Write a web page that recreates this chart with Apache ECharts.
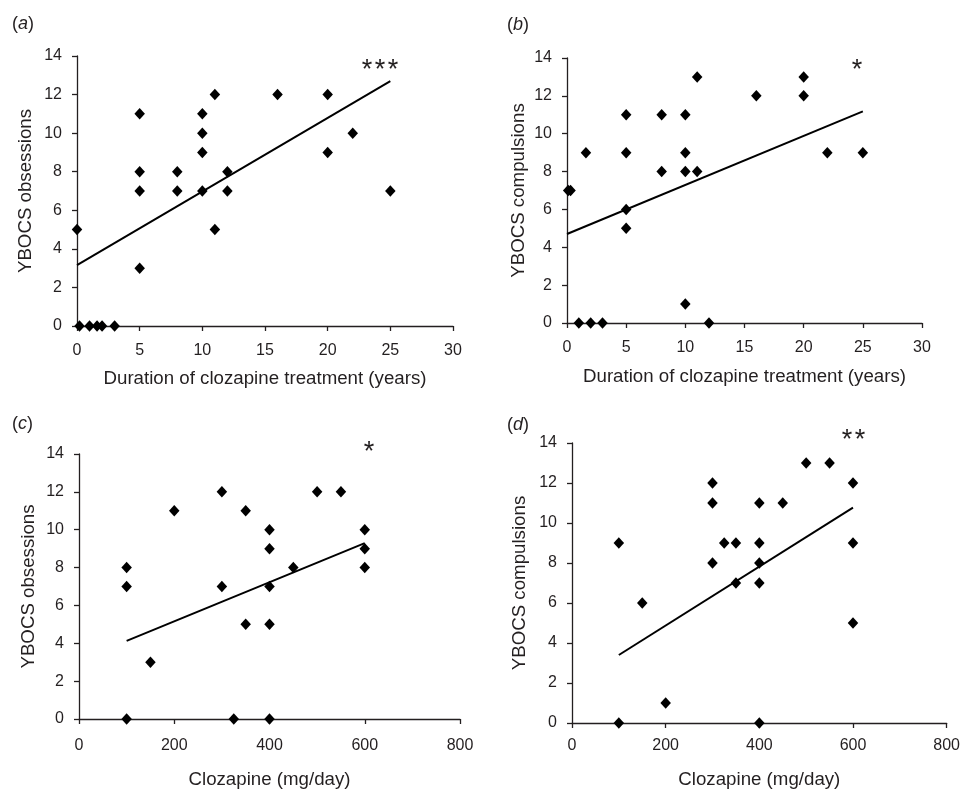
<!DOCTYPE html>
<html><head><meta charset="utf-8">
<script src="https://cdn.jsdelivr.net/npm/echarts@6/dist/echarts.min.js"></script>
<style>html,body{margin:0;padding:0;background:#fff}#c{width:963px;height:790px}</style>
</head><body><div id="c"></div>
<script>
// Panel (a): duration (years) vs YBOCS obsessions
const aX = [0, 0.2, 1, 1.6, 2, 3, 5, 5, 5, 5, 8, 8, 10, 10, 10, 10, 11, 11, 12, 12, 16, 20, 20, 22, 25];
const aY = [5, 0, 0, 0, 0, 0, 11, 8, 7, 3, 8, 7, 11, 10, 9, 7, 12, 5, 8, 7, 12, 12, 9, 10, 7];
const aTrendX = [0, 25];
const aTrendY = [3.16, 12.7];
// Panel (b): duration (years) vs YBOCS compulsions
const bX = [0.1, 0.3, 1, 1.6, 2, 3, 5, 5, 5, 5, 8, 8, 10, 10, 10, 10, 11, 11, 12, 16, 20, 20, 22, 25];
const bY = [7, 7, 0, 9, 0, 0, 11, 9, 6, 5, 11, 8, 11, 9, 8, 1, 13, 8, 0, 12, 13, 12, 9, 9];
const bTrendX = [0, 25];
const bTrendY = [4.7, 11.18];
// Panel (c): clozapine dose vs YBOCS obsessions
const cX = [100, 100, 100, 150, 200, 300, 300, 325, 350, 350, 400, 400, 400, 400, 400, 450, 500, 550, 600, 600, 600];
const cY = [8, 7, 0, 3, 11, 12, 7, 0, 11, 5, 10, 9, 7, 5, 0, 8, 12, 12, 10, 9, 8];
const cTrendX = [100, 600];
const cTrendY = [4.13, 9.29];
// Panel (d): clozapine dose vs YBOCS compulsions
const dX = [100, 100, 150, 200, 300, 300, 300, 325, 350, 350, 400, 400, 400, 400, 400, 450, 500, 550, 600, 600, 600];
const dY = [9, 0, 6, 1, 12, 11, 8, 9, 9, 7, 11, 9, 8, 7, 0, 11, 13, 13, 12, 9, 5];
const dTrendX = [100, 600];
const dTrendY = [3.4, 10.77];

const panelLabels = ['a', 'b', 'c', 'd'];
const starCounts = [3, 1, 1, 2];
const xTitles = ['Duration of clozapine treatment (years)', 'Duration of clozapine treatment (years)', 'Clozapine (mg/day)', 'Clozapine (mg/day)'];
const yTitles = ['YBOCS obsessions', 'YBOCS compulsions', 'YBOCS obsessions', 'YBOCS compulsions'];
const yTicks = [0, 2, 4, 6, 8, 10, 12, 14];
const xTicksYears = [0, 5, 10, 15, 20, 25, 30];
const xTicksDose = [0, 200, 400, 600, 800];

const FONT = '"Liberation Sans", Arial, sans-serif';
const INK = '#231f20';
const TICK_FS = 16;
const TITLE_FS = 18.7;

const grids = [
  {left: 77, top: 56, width: 376, height: 270},
  {left: 567, top: 58, width: 355, height: 265},
  {left: 79, top: 454, width: 381, height: 267},
  {left: 572, top: 443, width: 377, height: 282}
];
const xNameGap = [43, 44, 51, 47];
const yNameGap = [42, 39, 41, 43];
const xLabelMargin = [17, 17, 19, 15];
const xRanges = [xTicksYears, xTicksYears, xTicksDose, xTicksDose];
const pts = [[aX, aY], [bX, bY], [cX, cY], [dX, dY]];
const trends = [[aTrendX, aTrendY], [bTrendX, bTrendY], [cTrendX, cTrendY], [dTrendX, dTrendY]];

const zip = (xs, ys) => xs.map((x, i) => [x, ys[i]]);

const xAxis = [], yAxis = [], series = [];
grids.forEach((g, i) => {
  const xt = xRanges[i];
  xAxis.push({
    type: 'value', gridIndex: i, min: xt[0], max: xt[xt.length - 1], interval: xt[1] - xt[0],
    name: xTitles[i], nameLocation: 'middle', nameGap: xNameGap[i],
    nameTextStyle: {fontFamily: FONT, fontSize: TITLE_FS, color: INK},
    axisLine: {show: true, onZero: false, lineStyle: {color: INK, width: 1.3}},
    axisTick: {show: true, inside: false, length: 5, lineStyle: {color: INK, width: 1.3}},
    axisLabel: {fontFamily: FONT, fontSize: TICK_FS, color: INK, margin: xLabelMargin[i]},
    splitLine: {show: false}
  });
  yAxis.push({
    type: 'value', gridIndex: i, min: yTicks[0], max: yTicks[yTicks.length - 1], interval: yTicks[1] - yTicks[0],
    name: yTitles[i], nameLocation: 'middle', nameGap: yNameGap[i],
    nameTextStyle: {fontFamily: FONT, fontSize: TITLE_FS, color: INK},
    axisLine: {show: true, onZero: false, lineStyle: {color: INK, width: 1.3}},
    axisTick: {show: true, inside: false, length: 5, lineStyle: {color: INK, width: 1.3}},
    axisLabel: {fontFamily: FONT, fontSize: TICK_FS, color: INK, margin: 15},
    splitLine: {show: false}
  });
  series.push({
    type: 'scatter', xAxisIndex: i, yAxisIndex: i, symbol: 'diamond', symbolSize: [10.5, 11.5],
    itemStyle: {color: '#000', opacity: 1}, data: zip(pts[i][0], pts[i][1]), z: 3
  });
  series.push({
    type: 'line', xAxisIndex: i, yAxisIndex: i, symbol: 'none', silent: true,
    lineStyle: {color: '#000', width: 2}, data: zip(trends[i][0], trends[i][1]), z: 2
  });
});

const labelPos = [[12, 24], [507, 25], [12, 424], [507, 425]];
// significance stars: first star centre and row height per panel
const starStart = [[367, 71], [857, 71], [369, 453], [847, 441]];
const STAR_PITCH = 13;
const graphic = [];
panelLabels.forEach((l, i) => {
  graphic.push({
    type: 'text', x: labelPos[i][0], y: labelPos[i][1],
    style: {
      text: '({i|' + l + '})', fontFamily: FONT, fontSize: 18, fill: INK, verticalAlign: 'middle',
      rich: {i: {fontStyle: 'italic', fontFamily: FONT, fontSize: 18, color: INK}}
    }
  });
  for (let k = 0; k < starCounts[i]; k++) {
    graphic.push({
      type: 'text', x: starStart[i][0] + k * STAR_PITCH, y: starStart[i][1],
      style: {text: '*', fontFamily: FONT, fontSize: 27, fill: INK, align: 'center', verticalAlign: 'middle'}
    });
  }
});

const chart = echarts.init(document.getElementById('c'), null, {renderer: 'canvas'});
chart.setOption({
  animation: false,
  backgroundColor: '#fff',
  grid: grids.map(g => Object.assign({containLabel: false}, g)),
  xAxis, yAxis, series, graphic
});
</script></body></html>
